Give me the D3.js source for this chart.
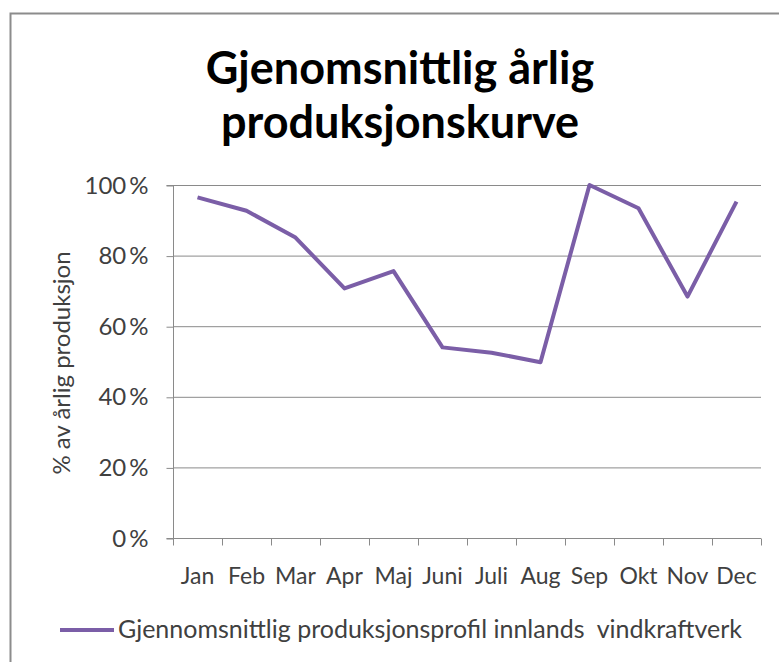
<!DOCTYPE html>
<html>
<head>
<meta charset="utf-8">
<script src="https://cdn.jsdelivr.net/npm/d3@7"></script>
<style>
  body { margin: 0; background: #fff; }
  svg { display: block; }
  text { font-family: Lato, "Open Sans", sans-serif; }
</style>
</head>
<body>
<svg width="779" height="662"></svg>
<script>
// data
var months = ['Jan', 'Feb', 'Mar', 'Apr', 'Maj', 'Juni', 'Juli', 'Aug', 'Sep', 'Okt', 'Nov', 'Dec']
var values = [96.5, 92.7, 85.1, 70.7, 75.6, 54.0, 52.5, 49.8, 100, 93.4, 68.4, 95.3]
var yTicks = [0, 20, 40, 60, 80, 100]
var titleLines = ['Gjenomsnittlig årlig', 'produksjonskurve']
var seriesName = 'Gjennomsnittlig produksjonsprofil innlands  vindkraftverk'

var svg = d3.select('svg')
var plotLeft = 173, plotRight = 761, plotTop = 185, plotBottom = 538

// chart frame (cut off at the right and bottom in the reference)
svg.append('rect')
    .attr('x', 10.5).attr('y', 13.5)
    .attr('width', 800).attr('height', 700)
    .attr('fill', 'none')
    .attr('stroke', '#8c8c8c')
    .attr('stroke-width', 2)

var x = d3.scaleBand().domain(months).range([plotLeft, plotRight])
var y = d3.scaleLinear().domain([0, 100]).range([plotBottom, plotTop])

// title
svg.append('text')
    .attr('x', 400).attr('y', 84)
    .attr('text-anchor', 'middle')
    .style('font-size', '45px').style('font-weight', 'bold')
    .style('fill', '#000')
    .selectAll('tspan')
    .data(titleLines)
    .enter()
    .append('tspan')
    .attr('x', 400)
    .attr('dy', function (d, i) { return i ? 54 : 0 })
    .text(function (d) { return d })

// gridlines
svg.append('g')
    .selectAll('line')
    .data(yTicks.slice(1))
    .enter()
    .append('line')
    .attr('x1', plotLeft).attr('x2', plotRight)
    .attr('y1', function (d) { return y(d) + 0.5 })
    .attr('y2', function (d) { return y(d) + 0.5 })
    .style('stroke', '#8a8a8a')
    .style('stroke-width', 1)

// y axis
var yAxis = svg.append('g')
    .attr('transform', 'translate(' + (plotLeft + 0.5) + ',0.5)')
    .call(d3.axisLeft(y).tickValues(yTicks).tickSize(7).tickPadding(18)
        .tickFormat(function (d) { return d + '\u2009%' }))
yAxis.select('.domain').attr('stroke', '#8a8a8a').attr('d', 'M-7,' + y(0) + 'H0V' + y(100) + 'H-7')
yAxis.selectAll('.tick line').attr('stroke', '#8a8a8a')
yAxis.selectAll('.tick text')
    .style('font-size', '24px').style('font-family', 'Lato, sans-serif')
    .attr('fill', '#404040')

// x axis with ticks on band boundaries
var xAxis = svg.append('g')
    .attr('transform', 'translate(0,' + (plotBottom + 0.5) + ')')
xAxis.append('line')
    .attr('x1', plotLeft).attr('x2', plotRight)
    .style('stroke', '#8a8a8a')
xAxis.selectAll('line.tk')
    .data(months.concat(['end']))
    .enter()
    .append('line')
    .attr('class', 'tk')
    .attr('x1', function (d, i) { return plotLeft + i * x.step() + 0.5 })
    .attr('x2', function (d, i) { return plotLeft + i * x.step() + 0.5 })
    .attr('y1', 0).attr('y2', 7)
    .style('stroke', '#8a8a8a')
xAxis.selectAll('text')
    .data(months)
    .enter()
    .append('text')
    .attr('x', function (d) { return x(d) + x.bandwidth() / 2 })
    .attr('y', 45)
    .attr('text-anchor', 'middle')
    .style('font-size', '23px')
    .style('fill', '#404040')
    .text(function (d) { return d })

// y axis title
svg.append('text')
    .attr('transform', 'translate(70,363) rotate(-90)')
    .attr('text-anchor', 'middle')
    .style('font-size', '24px')
    .style('fill', '#404040')
    .text('% av årlig produksjon')

// series line
var line = d3.line()
    .x(function (d, i) { return x(months[i]) + x.bandwidth() / 2 })
    .y(function (d) { return y(d) })
svg.append('path')
    .datum(values)
    .attr('d', line)
    .attr('fill', 'none')
    .attr('stroke', '#7B5EA7')
    .attr('stroke-width', 4)
    .attr('stroke-linejoin', 'round')

// legend
var legend = svg.append('g').attr('transform', 'translate(60,630)')
legend.append('line')
    .attr('x1', 0).attr('x2', 54)
    .attr('stroke', '#7B5EA7')
    .attr('stroke-width', 4)
legend.append('text')
    .attr('x', 58).attr('y', 8)
    .style('font-size', '25px')
    .style('fill', '#404040')
    .style('white-space', 'pre')
    .text(seriesName)
</script>
</body>
</html>
